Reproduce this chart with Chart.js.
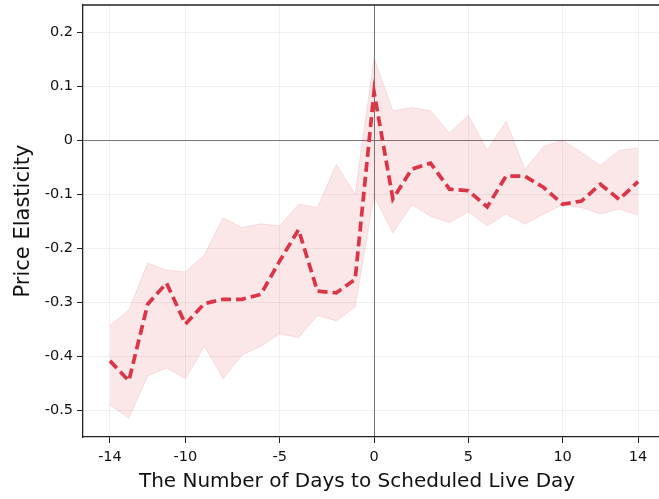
<!DOCTYPE html>
<html>
<head>
<meta charset="utf-8">
<script src="https://cdn.jsdelivr.net/npm/chart.js@4/dist/chart.umd.min.js"></script>
<style>
  html, body { margin: 0; padding: 0; background: #fff; }
  #wrap { width: 659px; height: 499px; }
</style>
</head>
<body>
<div id="wrap"><canvas id="elasticity"></canvas></div>
<script>
// days relative to the scheduled live day
var days = [-14,-13,-12,-11,-10,-9,-8,-7,-6,-5,-4,-3,-2,-1,0,1,2,3,4,5,6,7,8,9,10,11,12,13,14];
var estimate = [-0.409,-0.446,-0.304,-0.265,-0.341,-0.303,-0.295,-0.295,-0.286,-0.224,-0.166,-0.280,-0.283,-0.258,
                0.089,-0.109,-0.054,-0.043,-0.091,-0.094,-0.124,-0.067,-0.067,-0.088,-0.119,-0.113,-0.082,-0.110,-0.077];
var upper = [-0.343,-0.315,-0.228,-0.241,-0.244,-0.213,-0.144,-0.162,-0.155,-0.159,-0.119,-0.125,-0.045,-0.100,
             0.152,0.054,0.060,0.054,0.013,0.046,-0.019,0.035,-0.054,-0.012,0.000,-0.023,-0.047,-0.019,-0.015];
var lower = [-0.491,-0.515,-0.437,-0.422,-0.442,-0.382,-0.442,-0.398,-0.382,-0.359,-0.366,-0.325,-0.335,-0.309,
             -0.104,-0.172,-0.120,-0.141,-0.153,-0.133,-0.159,-0.137,-0.156,-0.137,-0.120,-0.125,-0.137,-0.128,-0.139];
var xTicks = [-14,-10,-5,0,5,10,14];
var yTicks = [-0.5,-0.4,-0.3,-0.2,-0.1,0,0.1,0.2];
var xTitle = 'The Number of Days to Scheduled Live Day';

var red = 'rgb(220,53,69)';

function pts(vals){
    return days.map(function(d, i){ return {x: d, y: vals[i]}; });
}

// top spine and x title (title sits a bit left of the visible area's centre)
var frame = {
    id: 'frame',
    afterDraw: function(chart){
        var a = chart.chartArea, ctx = chart.ctx;
        ctx.save();
        ctx.strokeStyle = '#222';
        ctx.lineWidth = 1.3;
        ctx.beginPath();
        ctx.moveTo(a.left, a.top);
        ctx.lineTo(a.right, a.top);
        ctx.stroke();
        ctx.fillStyle = '#111';
        ctx.font = '20px "DejaVu Sans"';
        ctx.textAlign = 'center';
        ctx.textBaseline = 'alphabetic';
        ctx.fillText(xTitle, chart.scales.x.getPixelForValue(-0.9), 487);
        ctx.restore();
    }
};

Chart.defaults.font.family = 'DejaVu Sans';
Chart.defaults.color = '#111';

new Chart(document.getElementById('elasticity'), {
    type: 'line',
    data: {
        datasets: [{
            data: pts(upper),
            borderColor: 'rgba(220,53,69,0.12)',
            backgroundColor: 'rgba(220,53,69,0.12)',
            borderWidth: 1,
            pointRadius: 0,
            fill: '+1',
            order: 2
        }, {
            data: pts(lower),
            borderColor: 'rgba(220,53,69,0.12)',
            borderWidth: 1,
            pointRadius: 0,
            fill: false,
            order: 2
        }, {
            data: pts(estimate),
            borderColor: red,
            borderWidth: 3.7,
            borderDash: [10, 5],
            pointRadius: 0,
            fill: false,
            order: 1
        }]
    },
    options: {
        responsive: true,
        maintainAspectRatio: false,
        animation: false,
        layout: { padding: { top: 5, right: 0, left: 0, bottom: 0 } },
        plugins: { legend: { display: false }, tooltip: { enabled: false } },
        scales: {
            x: {
                type: 'linear',
                min: -15.43,
                max: 15.11,
                afterBuildTicks: function(s){ s.ticks = xTicks.map(function(v){ return {value: v}; }); },
                afterFit: function(s){ s.height = 62; s.paddingLeft = 0; s.paddingRight = 0; },
                ticks: { font: { size: 14.5 }, padding: 6, maxRotation: 0, autoSkip: false,
                         callback: function(v){ return String(v); } },
                grid: {
                    color: function(c){ return c.tick && c.tick.value === 0 ? '#777' : 'rgba(0,0,0,0.06)'; },
                    tickColor: '#222',
                    tickLength: 6
                },
                border: { color: '#222', width: 1.3 }
            },
            y: {
                min: -0.55,
                max: 0.25,
                afterBuildTicks: function(s){ s.ticks = yTicks.map(function(v){ return {value: v}; }); },
                afterFit: function(s){ s.width = 83; s.paddingTop = 0; s.paddingBottom = 0; },
                ticks: { font: { size: 14.5 }, padding: 4,
                         callback: function(v){ return Math.abs(v) < 1e-9 ? '0' : v.toFixed(1); } },
                grid: {
                    color: function(c){ return c.tick && Math.abs(c.tick.value) < 1e-9 ? '#777' : 'rgba(0,0,0,0.06)'; },
                    tickColor: '#222',
                    tickLength: 6
                },
                border: { color: '#222', width: 1.3 },
                title: { display: true, text: 'Price Elasticity', font: { size: 21 }, padding: { top: 11, bottom: 2 } }
            }
        }
    },
    plugins: [frame]
});
</script>
</body>
</html>
